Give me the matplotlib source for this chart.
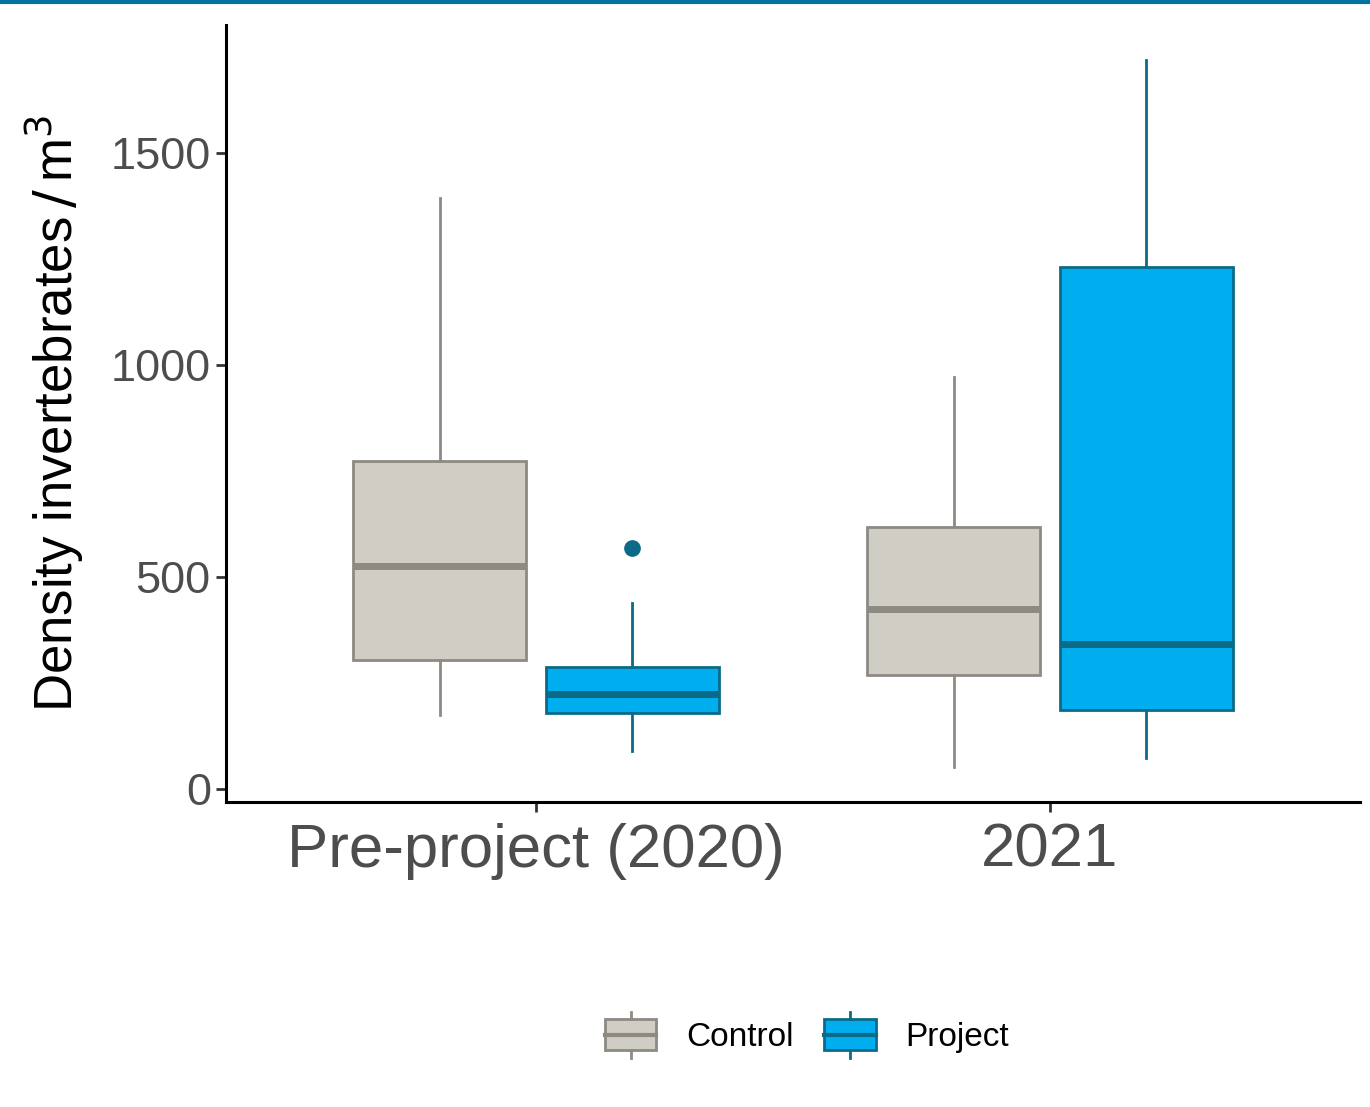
import matplotlib.pyplot as plt
from matplotlib.legend_handler import HandlerBase
from matplotlib.patches import Rectangle
from matplotlib.lines import Line2D

plt.rcParams["font.family"] = ["Liberation Sans", "DejaVu Sans"]

periods = ["Pre-project (2020)", "2021"]
groups = ["Control", "Project"]

# five-number summaries: whislo, q1, med, q3, whishi
control_stats = [
    [175, 304, 526, 774, 1394],
    [52, 269, 425, 618, 972],
]
project_stats = [
    [90, 179, 224, 288, 439],
    [73, 186, 342, 1231, 1719],
]
project_outliers = [[568], []]
control_outliers = [[], []]

fill_colors = {"Control": "#cfcdc4", "Project": "#00aeef"}
edge_colors = {"Control": "#8c8a82", "Project": "#0b6a87"}


def make_stats(rows, outliers):
    out = []
    for r, fl in zip(rows, outliers):
        out.append({"whislo": r[0], "q1": r[1], "med": r[2], "q3": r[3],
                    "whishi": r[4], "fliers": fl})
    return out


fig = plt.figure(figsize=(13.7, 11.07), dpi=100)
ax = fig.add_axes([0.165, 0.2755, 0.8277, 0.702])

centers = [1, 2]
offset = 0.1875
width = 0.3375
for g, rows, fl, sgn in [("Control", control_stats, control_outliers, -1),
                         ("Project", project_stats, project_outliers, 1)]:
    ec = edge_colors[g]
    ax.bxp(make_stats(rows, fl),
           positions=[c + sgn * offset for c in centers],
           widths=width, patch_artist=True, showcaps=False,
           boxprops=dict(facecolor=fill_colors[g], edgecolor=ec, linewidth=2),
           whiskerprops=dict(color=ec, linewidth=2),
           medianprops=dict(color=ec, linewidth=5, solid_capstyle="butt"),
           flierprops=dict(marker="o", markerfacecolor=ec, markeredgecolor=ec,
                           markersize=11))

ax.set_xlim(0.397, 2.603)
ax.set_ylim(-31, 1802)
ax.set_xticks(centers)
ax.set_xticklabels(periods)
ax.set_yticks([0, 500, 1000, 1500])

for s in ["top", "right"]:
    ax.spines[s].set_visible(False)
for s in ["left", "bottom"]:
    ax.spines[s].set_linewidth(2.2)
    ax.spines[s].set_color("black")

ax.tick_params(axis="y", labelsize=32.5, labelcolor="#4d4d4d", length=7,
               width=2, color="#333333", pad=4)
ax.tick_params(axis="x", labelsize=44.5, labelcolor="#4d4d4d", length=7,
               width=2, color="#333333", pad=8)

ax.set_ylabel(r"Density invertebrates$\,/\,$m$^3$", fontsize=38, labelpad=18)


class BoxKeyHandler(HandlerBase):
    def __init__(self, fc, ec):
        super().__init__()
        self.fc = fc
        self.ec = ec

    def create_artists(self, legend, orig_handle, xdescent, ydescent,
                       width, height, fontsize, trans):
        ext = height * 0.25
        rect = Rectangle((-xdescent, -ydescent), width, height,
                         facecolor=self.fc, edgecolor=self.ec, linewidth=2,
                         transform=trans)
        med = Line2D([-xdescent, -xdescent + width],
                     [-ydescent + height / 2] * 2, color=self.ec,
                     linewidth=3, transform=trans)
        cx = -xdescent + width / 2
        top = Line2D([cx, cx], [-ydescent + height, -ydescent + height + ext],
                     color=self.ec, linewidth=2, transform=trans)
        bot = Line2D([cx, cx], [-ydescent - ext, -ydescent],
                     color=self.ec, linewidth=2, transform=trans)
        return [rect, med, top, bot]


h_control = Rectangle((0, 0), 1, 1)
h_project = Rectangle((0, 0), 1, 1)
fig.legend([h_control, h_project], groups,
           handler_map={h_control: BoxKeyHandler(fill_colors["Control"], edge_colors["Control"]),
                        h_project: BoxKeyHandler(fill_colors["Project"], edge_colors["Project"])},
           loc="center", bbox_to_anchor=(0.589, 0.064), ncol=2, frameon=False,
           fontsize=24, handlelength=1.55, handleheight=1.05,
           handletextpad=0.9, columnspacing=0.9)

# thin coloured rule along the top edge
fig.add_artist(Line2D([0, 1], [0.9985, 0.9985], transform=fig.transFigure,
                      color="#0073a0", linewidth=3))

fig.savefig("out.png", dpi=100)
